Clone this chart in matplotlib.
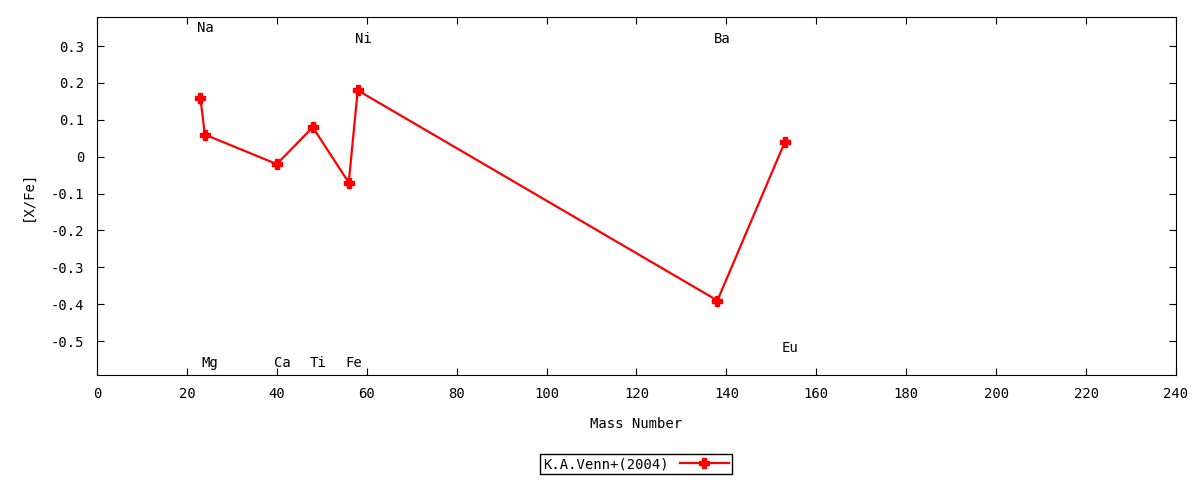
import matplotlib.pyplot as plt

# abundance data, K.A.Venn+(2004)
elements = ['Na', 'Mg', 'Ca', 'Ti', 'Fe', 'Ni', 'Ba', 'Eu']
mass = [23, 24, 40, 48, 56, 58, 138, 153]
xfe = [0.16, 0.06, -0.02, 0.08, -0.07, 0.18, -0.39, 0.04]
label_y = [0.35, -0.56, -0.56, -0.56, -0.56, 0.32, 0.32, -0.52]

plt.rcParams['font.family'] = ['DejaVu Sans Mono']
plt.rcParams['font.size'] = 10

fig = plt.figure(figsize=(12, 4.8), dpi=100)
ax = fig.add_axes([0.0808, 0.21875, 0.8992, 0.74585])

line, = ax.plot(mass, xfe, color='red', lw=1.6, marker='P', ms=7.5,
                mec='red', mfc='red', label='K.A.Venn+(2004)')

for el, m, ly in zip(elements, mass, label_y):
    ax.text(m - 0.7, ly, el, ha='left', va='center')

ax.set_xlim(0, 240)
ax.set_ylim(-0.592, 0.379)
ax.set_xticks(range(0, 241, 20))
ax.set_yticks([-0.5, -0.4, -0.3, -0.2, -0.1, 0, 0.1, 0.2, 0.3])
ax.set_yticklabels(['-0.5', '-0.4', '-0.3', '-0.2', '-0.1', '0', '0.1', '0.2', '0.3'])
ax.tick_params(direction='in', top=True, right=True, length=5, pad=9)
ax.set_xlabel('Mass Number', labelpad=11)
ax.set_ylabel('[X/Fe]', labelpad=12)

leg = fig.legend(handles=[line], loc='center', bbox_to_anchor=(0.53, 0.0333),
                 markerfirst=False, fancybox=False, edgecolor='black',
                 framealpha=1, handlelength=3.5, borderpad=0.25)
leg.get_frame().set_linewidth(1)

fig.savefig('out.png')
